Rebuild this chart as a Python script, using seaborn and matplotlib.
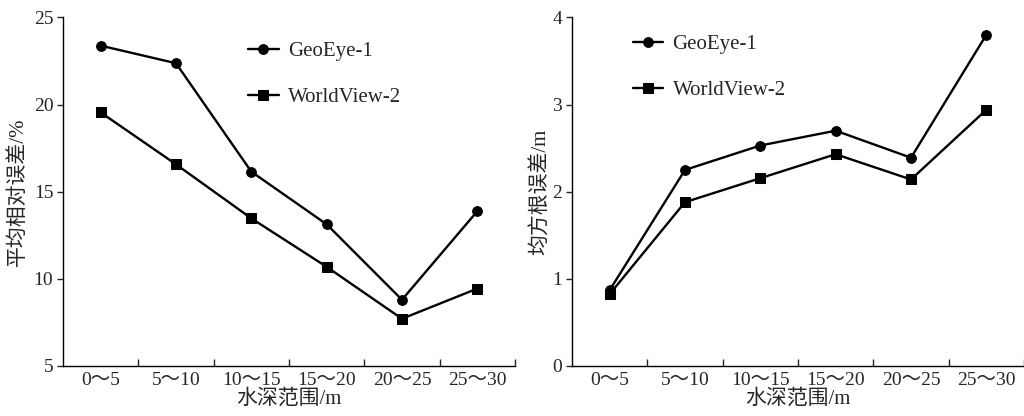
import numpy as np
import pandas as pd
import matplotlib
matplotlib.use("Agg")
import matplotlib.pyplot as plt
import seaborn as sns
from matplotlib.ticker import FixedLocator, NullFormatter

categories = ["0～5", "5～10", "10～15", "15～20", "20～25", "25～30"]
series_names = ["GeoEye-1", "WorldView-2"]
mre_geoeye = [23.38, 22.37, 16.15, 13.13, 8.8, 13.88]
mre_worldview = [19.55, 16.57, 13.47, 10.69, 7.71, 9.44]
rmse_geoeye = [0.87, 2.25, 2.53, 2.70, 2.39, 3.80]
rmse_worldview = [0.825, 1.88, 2.155, 2.43, 2.14, 2.94]
xlabel = "水深范围/m"
ylabel_left = "平均相对误差/%"
ylabel_right = "均方根误差/m"

sns.set_style("ticks")
plt.rcParams['font.family'] = ['Liberation Serif', 'Noto Sans CJK SC']
plt.rcParams['axes.unicode_minus'] = False


def long_df(a, b):
    pos = list(range(len(categories)))
    return pd.DataFrame({
        "pos": pos + pos,
        "val": list(a) + list(b),
        "series": [series_names[0]] * len(a) + [series_names[1]] * len(b),
    })


fig = plt.figure(figsize=(10.24, 4.16), dpi=100)
ax1 = fig.add_axes([0.0615, 0.1202, 0.4414, 0.838])
ax2 = fig.add_axes([0.5586, 0.1202, 0.4414, 0.838])

configs = [
    (ax1, long_df(mre_geoeye, mre_worldview), (5, 25), [5, 10, 15, 20, 25], ylabel_left, (0.41, 0.93), 4),
    (ax2, long_df(rmse_geoeye, rmse_worldview), (0, 4), [0, 1, 2, 3, 4], ylabel_right, (0.135, 0.95), 1.5),
]

for ax, df, ylim, yticks, ylab, anchor, ylpad in configs:
    sns.lineplot(data=df, x="pos", y="val", hue="series", style="series",
                 markers=["o", "s"], dashes=False, palette=["black", "black"],
                 linewidth=1.7, markersize=7, markeredgecolor="black",
                 ax=ax)
    ax.set_xlim(-0.5, 5.5)
    ax.set_ylim(*ylim)
    ax.set_yticks(yticks)
    ax.set_xticks(range(len(categories)))
    ax.set_xticklabels(categories)
    ax.xaxis.set_minor_locator(FixedLocator(np.arange(0.5, 5.6, 1.0)))
    ax.xaxis.set_minor_formatter(NullFormatter())
    ax.tick_params(axis="x", which="major", length=0, labelsize=14, pad=4)
    ax.tick_params(axis="x", which="minor", direction="in", length=5, width=1)
    ax.tick_params(axis="y", which="major", direction="out", length=4, width=1, labelsize=14, pad=3)
    for s in ["top", "right"]:
        ax.spines[s].set_visible(False)
    for s in ["left", "bottom"]:
        ax.spines[s].set_linewidth(1.0)
        ax.spines[s].set_color("black")
    ax.set_xlabel(xlabel, fontsize=15, labelpad=0.5)
    ax.set_ylabel(ylab, fontsize=15, labelpad=ylpad)
    ax.legend(title=None, frameon=False, loc="upper left", bbox_to_anchor=anchor,
              fontsize=15, handlelength=1.45, handletextpad=0.45, labelspacing=1.25,
              borderpad=0, borderaxespad=0)

fig.savefig("out.png", dpi=100)
